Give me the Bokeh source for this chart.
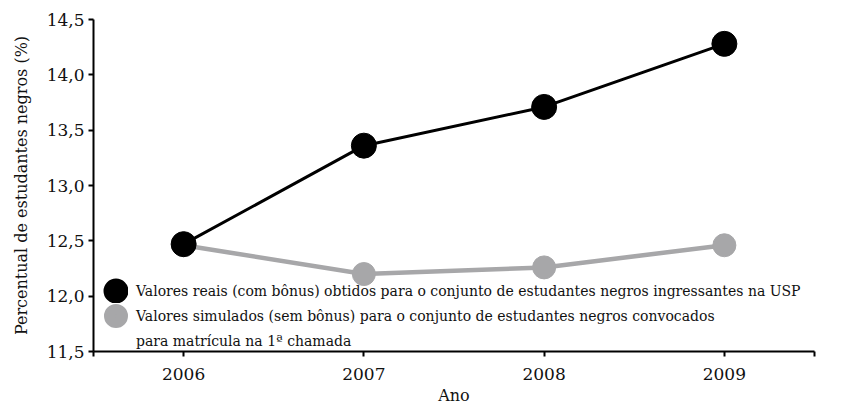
from bokeh.plotting import figure
from bokeh.models import FixedTicker, Legend, LegendItem, ColumnDataSource
from bokeh.embed import file_html
from bokeh.resources import INLINE

years = [2006, 2007, 2008, 2009]
reais = [12.47, 13.36, 13.71, 14.28]
simulados = [12.46, 12.20, 12.26, 12.46]
y_ticks = [11.5, 12.0, 12.5, 13.0, 13.5, 14.0, 14.5]
y_tick_labels = ["11,5", "12,0", "12,5", "13,0", "13,5", "14,0", "14,5"]
x_ticks = [2005.5, 2006, 2007, 2008, 2009, 2009.5]
x_tick_labels = ["", "2006", "2007", "2008", "2009", ""]
label_reais = "Valores reais (com bônus) obtidos para o conjunto de estudantes negros ingressantes na USP"
label_sim_1 = "Valores simulados (sem bônus) para o conjunto de estudantes negros convocados"
label_sim_2 = "para matrícula na 1ª chamada"

FONT = "DejaVu Serif"
GRAY = "#a7a7a9"
NAN = float("nan")

p = figure(width=859, height=407, output_backend="svg", toolbar_location=None,
           x_range=(2005.5, 2009.5), y_range=(11.5, 14.5),
           min_border_left=93, min_border_right=45, min_border_top=19, min_border_bottom=56)
p.outline_line_color = None
p.xgrid.visible = False
p.ygrid.visible = False

src_s = ColumnDataSource(dict(x=years, y=simulados))
src_r = ColumnDataSource(dict(x=years, y=reais))

ls = p.line("x", "y", source=src_s, line_color=GRAY, line_width=4.5)
cs = p.scatter("x", "y", source=src_s, size=23, fill_color=GRAY, line_color=GRAY)
lr = p.line("x", "y", source=src_r, line_color="black", line_width=3)
cr = p.scatter("x", "y", source=src_r, size=25, fill_color="black", line_color="black")

# legend-only renderers (never drawn in the plot): thick outline enlarges the legend marker
leg_r = p.scatter(x=[NAN], y=[NAN], fill_color="black", line_color="black", line_width=15)
leg_s = p.scatter(x=[NAN], y=[NAN], fill_color=GRAY, line_color=GRAY, line_width=14)
leg_blank = p.scatter(x=[NAN], y=[NAN], fill_alpha=0, line_alpha=0)

for ax in (p.xaxis[0], p.yaxis[0]):
    ax.axis_line_width = 2
    ax.major_tick_line_width = 2
    ax.major_tick_out = 5
    ax.major_tick_in = 0
    ax.minor_tick_line_color = None
    ax.major_label_text_font = FONT
    ax.major_label_text_font_size = "17px"
    ax.major_label_text_color = "#111111"
    ax.axis_label_text_font = FONT
    ax.axis_label_text_font_style = "normal"
    ax.axis_label_text_color = "#111111"

p.yaxis[0].ticker = FixedTicker(ticks=y_ticks)
p.yaxis[0].major_label_overrides = {t: l for t, l in zip(y_ticks, y_tick_labels)}
p.yaxis[0].axis_label = "Percentual de estudantes negros (%)"
p.yaxis[0].axis_label_text_font_size = "16px"
p.yaxis[0].axis_label_standoff = 13
p.yaxis[0].major_label_standoff = 4
p.xaxis[0].ticker = FixedTicker(ticks=x_ticks)
p.xaxis[0].major_label_overrides = {t: l for t, l in zip(x_ticks, x_tick_labels)}
p.xaxis[0].axis_label = "Ano"
p.xaxis[0].axis_label_text_font_size = "16px"
p.xaxis[0].axis_label_standoff = 3
p.xaxis[0].major_label_standoff = 11

legend = Legend(items=[LegendItem(label=label_reais, renderers=[leg_r]),
                       LegendItem(label=label_sim_1, renderers=[leg_s]),
                       LegendItem(label=label_sim_2, renderers=[leg_blank])],
                location=(10, -2), background_fill_alpha=0, border_line_color=None,
                label_text_font=FONT, label_text_font_size="14px", label_text_color="#111111",
                glyph_width=25, glyph_height=25, spacing=0, padding=0, margin=0,
                label_standoff=8, label_height=20)
p.add_layout(legend)

open("out.html", "w").write(file_html(p, INLINE))
